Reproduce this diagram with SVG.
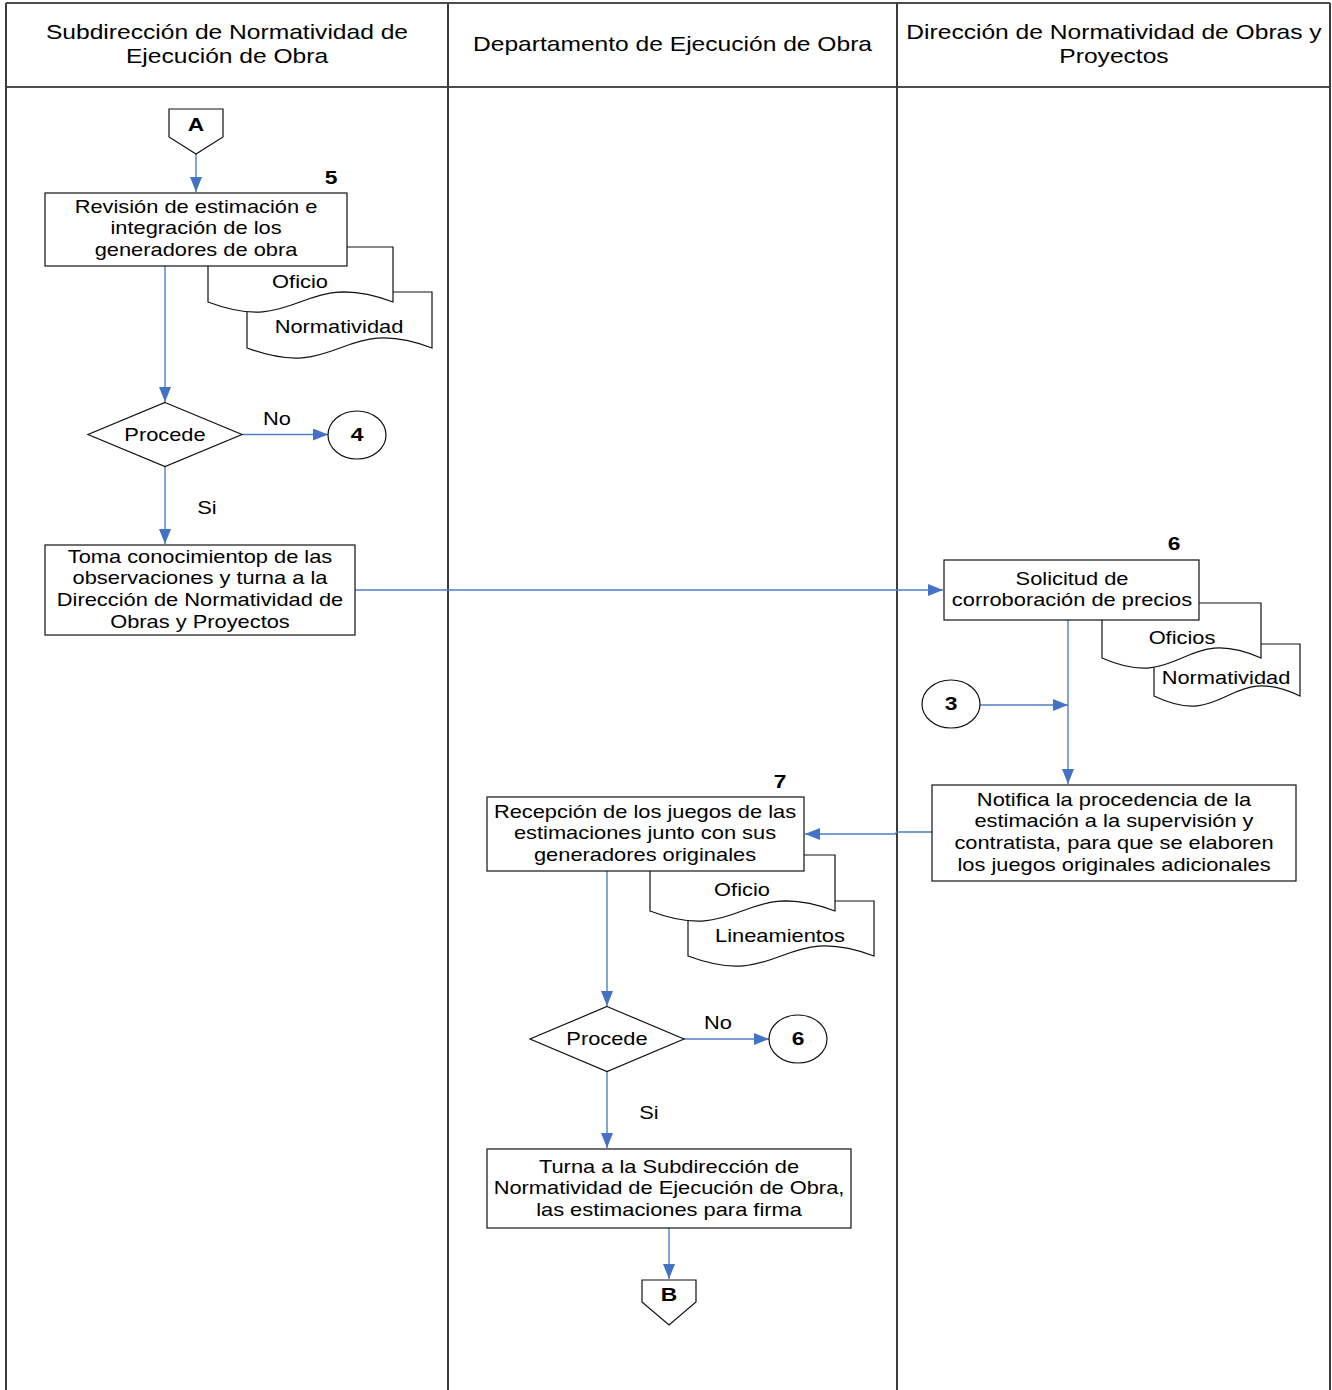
<svg xmlns="http://www.w3.org/2000/svg" width="1332" height="1390" viewBox="0 0 1332 1390">
  <defs>
    <marker id="arrow" viewBox="0 0 15 12" refX="15" refY="6" markerWidth="15" markerHeight="12" markerUnits="userSpaceOnUse" orient="auto">
      <path d="M0,0 L15,6 L0,12 z" fill="#4472c4"/>
    </marker>
    <style>
      .lane { stroke: #3a3a3a; stroke-width: 2; fill: none; }
      .hdr { stroke: #111; stroke-width: 1.4; fill: none; }
      .shape { fill: #fff; stroke: #111; stroke-width: 1.2; }
      .conn-a { fill: none; stroke: #4f7fc7; stroke-width: 1.4; marker-end: url(#arrow); }
      text { font-family: "Liberation Sans", Arial, sans-serif; fill: #000; text-anchor: middle; }
      .h { font-size: 20.5px; }
      .t { font-size: 18.2px; }
      .b { font-size: 19px; font-weight: bold; }
    </style>
  </defs>

  <!-- swimlane frame -->
  <g id="lanes">
    <line class="hdr" x1="6" y1="3" x2="1330" y2="3"/>
    <line class="hdr" x1="6" y1="87" x2="1330" y2="87"/>
    <line class="lane" x1="6" y1="3" x2="6" y2="1390"/>
    <line class="lane" x1="448" y1="3" x2="448" y2="1390"/>
    <line class="lane" x1="897" y1="3" x2="897" y2="1390"/>
    <line class="lane" x1="1330" y1="3" x2="1330" y2="1390"/>
    <text class="h" transform="translate(227 39) scale(1.2 1)">Subdirección de Normatividad de<tspan x="0" dy="24">Ejecución de Obra</tspan></text>
    <text class="h" transform="translate(672.5 51) scale(1.2 1)">Departamento de Ejecución de Obra</text>
    <text class="h" transform="translate(1114 39) scale(1.2 1)">Dirección de Normatividad de Obras y<tspan x="0" dy="24">Proyectos</tspan></text>
  </g>

  <!-- connectors -->
  <g id="connectors">
    <line class="conn-a" x1="196" y1="154" x2="196" y2="192"/>
    <line class="conn-a" x1="165" y1="266" x2="165" y2="402"/>
    <line class="conn-a" x1="242" y1="434.5" x2="328" y2="434.5"/>
    <line class="conn-a" x1="165" y1="467" x2="165" y2="544"/>
    <line class="conn-a" x1="355" y1="590" x2="943" y2="590"/>
    <line class="conn-a" x1="1068" y1="620" x2="1068" y2="784"/>
    <line class="conn-a" x1="980" y1="705" x2="1068" y2="705"/>
    <polyline class="conn-a" points="932,832 897,832 895,834 805,834"/>
    <line class="conn-a" x1="607" y1="871" x2="607" y2="1006"/>
    <line class="conn-a" x1="684" y1="1039" x2="769" y2="1039"/>
    <line class="conn-a" x1="607" y1="1071" x2="607" y2="1148"/>
    <line class="conn-a" x1="669" y1="1228" x2="669" y2="1279"/>
  </g>

  <!-- off-page connector A -->
  <g id="offpage-a">
    <path class="shape" d="M169,109 H223 V137 L196,154 L169,137 Z"/>
    <text class="b" transform="translate(196 131) scale(1.2 1)">A</text>
  </g>

  <!-- step 5 with its documents -->
  <g id="doc-normatividad-5">
    <path class="shape" d="M247,292 H432 V348 C340,313 340,383 247,348 Z"/>
    <text class="t" transform="translate(339 332.5) scale(1.2 1)">Normatividad</text>
  </g>
  <g id="doc-oficio-5">
    <path class="shape" d="M208,247 H393 V302 C300,267 300,337 208,302 Z"/>
    <text class="t" transform="translate(300 287.5) scale(1.2 1)">Oficio</text>
  </g>
  <g id="step-5">
    <rect class="shape" x="45" y="193" width="302" height="73"/>
    <text class="t" transform="translate(196 212.5) scale(1.2 1)">Revisión de estimación e<tspan x="0" dy="22">integración de los</tspan><tspan x="0" dy="22">generadores de obra</tspan></text>
    <text class="b" transform="translate(331 184) scale(1.2 1)">5</text>
  </g>

  <g id="decision-1">
    <path class="shape" d="M165,402.5 L242,434.5 L165,466.5 L88,434.5 Z"/>
    <text class="t" transform="translate(165 441) scale(1.2 1)">Procede</text>
  </g>
  <text class="t" transform="translate(277 425) scale(1.2 1)">No</text>
  <text class="t" transform="translate(207 514) scale(1.2 1)">Si</text>

  <g id="ref-4">
    <ellipse class="shape" cx="357" cy="435" rx="29" ry="24"/>
    <text class="b" transform="translate(357 441) scale(1.2 1)">4</text>
  </g>

  <g id="step-toma">
    <rect class="shape" x="45" y="545" width="310" height="90"/>
    <text class="t" transform="translate(200 562.5) scale(1.2 1)">Toma conocimientop de las<tspan x="0" dy="22">observaciones y turna a la</tspan><tspan x="0" dy="22">Dirección de Normatividad de</tspan><tspan x="0" dy="22">Obras y Proyectos</tspan></text>
  </g>

  <!-- step 6 with its documents -->
  <g id="doc-normatividad-6">
    <path class="shape" d="M1154,644 H1300 V696 C1227,661 1227,731 1154,696 Z"/>
    <text class="t" transform="translate(1226 683.5) scale(1.2 1)">Normatividad</text>
  </g>
  <g id="doc-oficios-6">
    <path class="shape" d="M1102,603 H1261 V658 C1182,623 1182,693 1102,658 Z"/>
    <text class="t" transform="translate(1182 643.5) scale(1.2 1)">Oficios</text>
  </g>
  <g id="step-6">
    <rect class="shape" x="944" y="560" width="255" height="60"/>
    <text class="t" transform="translate(1072 584.5) scale(1.2 1)">Solicitud de<tspan x="0" dy="22">corroboración de precios</tspan></text>
    <text class="b" transform="translate(1174 550) scale(1.2 1)">6</text>
  </g>

  <g id="ref-3">
    <ellipse class="shape" cx="951" cy="704" rx="29" ry="24"/>
    <text class="b" transform="translate(951 710) scale(1.2 1)">3</text>
  </g>

  <g id="step-notifica">
    <rect class="shape" x="932" y="785" width="364" height="96"/>
    <text class="t" transform="translate(1114 805.5) scale(1.2 1)">Notifica la procedencia de la<tspan x="0" dy="22">estimación a la supervisión y</tspan><tspan x="0" dy="22">contratista, para que se elaboren</tspan><tspan x="0" dy="22">los juegos originales adicionales</tspan></text>
  </g>

  <!-- step 7 with its documents -->
  <g id="doc-lineamientos-7">
    <path class="shape" d="M688,901 H874 V956 C781,921 781,991 688,956 Z"/>
    <text class="t" transform="translate(780 941.5) scale(1.2 1)">Lineamientos</text>
  </g>
  <g id="doc-oficio-7">
    <path class="shape" d="M650,855 H835 V911 C742,876 742,946 650,911 Z"/>
    <text class="t" transform="translate(742 896) scale(1.2 1)">Oficio</text>
  </g>
  <g id="step-7">
    <rect class="shape" x="487" y="797" width="317" height="74"/>
    <text class="t" transform="translate(645 818) scale(1.2 1)">Recepción de los juegos de las<tspan x="0" dy="21.5">estimaciones junto con sus</tspan><tspan x="0" dy="21.5">generadores originales</tspan></text>
    <text class="b" transform="translate(780 788) scale(1.2 1)">7</text>
  </g>

  <g id="decision-2">
    <path class="shape" d="M607,1006.5 L684,1039 L607,1071.5 L530,1039 Z"/>
    <text class="t" transform="translate(607 1045) scale(1.2 1)">Procede</text>
  </g>
  <text class="t" transform="translate(718 1029) scale(1.2 1)">No</text>
  <text class="t" transform="translate(649 1119) scale(1.2 1)">Si</text>

  <g id="ref-6">
    <ellipse class="shape" cx="798" cy="1039" rx="29" ry="24"/>
    <text class="b" transform="translate(798 1045) scale(1.2 1)">6</text>
  </g>

  <g id="step-turna">
    <rect class="shape" x="487" y="1149" width="364" height="79"/>
    <text class="t" transform="translate(669 1172.5) scale(1.2 1)">Turna a la Subdirección de<tspan x="0" dy="22">Normatividad de Ejecución de Obra,</tspan><tspan x="0" dy="22">las estimaciones para firma</tspan></text>
  </g>

  <!-- off-page connector B -->
  <g id="offpage-b">
    <path class="shape" d="M642,1280 H696 V1302 L669,1325 L642,1302 Z"/>
    <text class="b" transform="translate(669 1301) scale(1.2 1)">B</text>
  </g>
</svg>
